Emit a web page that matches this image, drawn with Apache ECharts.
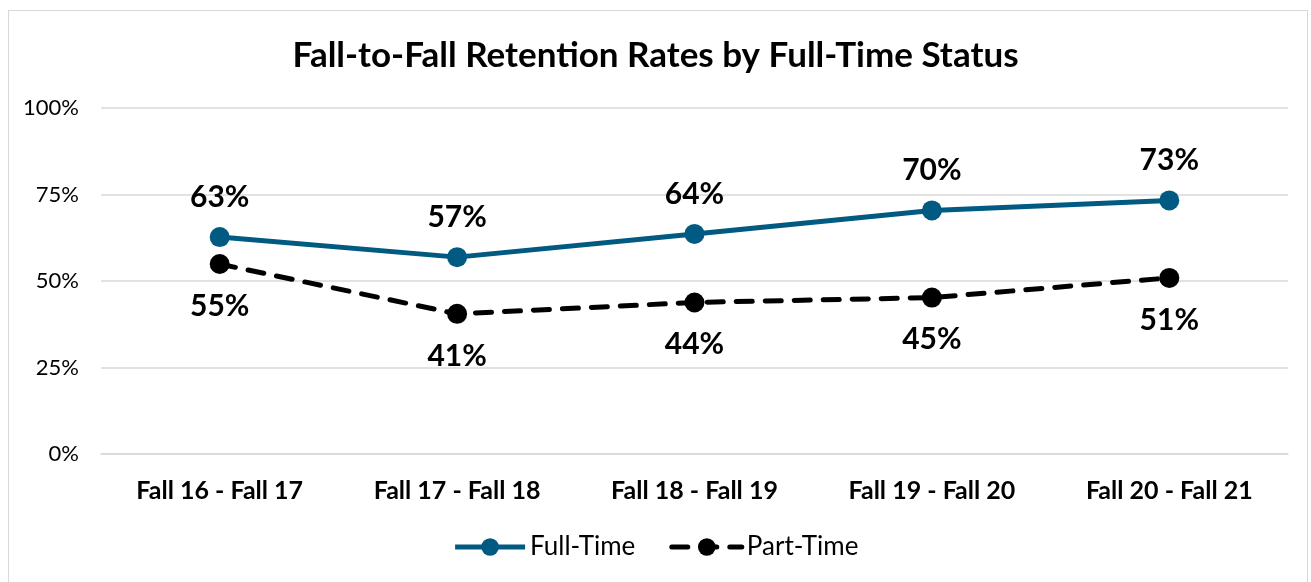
<!DOCTYPE html>
<html><head><meta charset="utf-8">
<script src="https://cdn.jsdelivr.net/npm/echarts@6/dist/echarts.min.js"></script>
<style>html,body{margin:0;padding:0;background:#fff}#c{width:1311px;height:582px}
#frame{position:absolute;left:8px;top:10px;width:1300px;height:580px;border:1.5px solid #d9d9d9;box-sizing:border-box;pointer-events:none}</style>
</head><body><div id="c"></div><div id="frame"></div>
<script>
const categories = ['Fall 16 - Fall 17','Fall 17 - Fall 18','Fall 18 - Fall 19','Fall 19 - Fall 20','Fall 20 - Fall 21'];
const fullTime = [62.7, 56.9, 63.6, 70.4, 73.3];
const partTime = [54.9, 40.5, 43.8, 45.2, 50.9];
const yTicks = [0, 25, 50, 75, 100];
const FONT = 'Lato';
const chart = echarts.init(document.getElementById('c'));
chart.setOption({
  animation:false,
  textStyle:{fontFamily:FONT},
  title:{text:'Fall-to-Fall Retention Rates by Full-Time Status',left:'center',top:33,
    textStyle:{fontFamily:FONT,fontWeight:'bold',fontSize:35,color:'#000'}},
  grid:{left:101,right:23,top:108,bottom:128},
  legend:{bottom:17,left:'center',itemWidth:70,itemHeight:22,itemGap:34,
    textStyle:{fontFamily:FONT,fontSize:26,color:'#000'},
    lineStyle:{width:5},
    data:['Full-Time','Part-Time']},
  xAxis:{type:'category',data:categories,boundaryGap:true,
    axisLine:{lineStyle:{color:'#d9d9d9',width:1.5}},axisTick:{show:false},
    axisLabel:{fontFamily:FONT,fontWeight:'bold',fontSize:25,color:'#000',margin:24}},
  yAxis:{type:'value',min:0,max:100,interval:25,
    axisLine:{show:false},axisTick:{show:false},
    splitLine:{lineStyle:{color:'#d9d9d9',width:1.5}},
    axisLabel:{fontFamily:FONT,fontSize:22,color:'#000',margin:22,
      formatter:v=>yTicks.includes(v)?v+'%':''}},
  series:[
    {name:'Full-Time',type:'line',data:fullTime,symbol:'circle',symbolSize:20,
     lineStyle:{color:'#005A82',width:5},itemStyle:{color:'#005A82'},
     label:{show:true,position:'top',distance:15,fontFamily:FONT,fontWeight:'bold',fontSize:30,color:'#000',
       formatter:p=>Math.round(p.value)+'%'}},
    {name:'Part-Time',type:'line',data:partTime,symbol:'circle',symbolSize:20,
     lineStyle:{color:'#000',width:5,type:[16,13],cap:'round'},itemStyle:{color:'#000'},
     label:{show:true,position:'bottom',distance:17,fontFamily:FONT,fontWeight:'bold',fontSize:30,color:'#000',
       formatter:p=>Math.round(p.value)+'%'}}
  ]
});
</script></body></html>
